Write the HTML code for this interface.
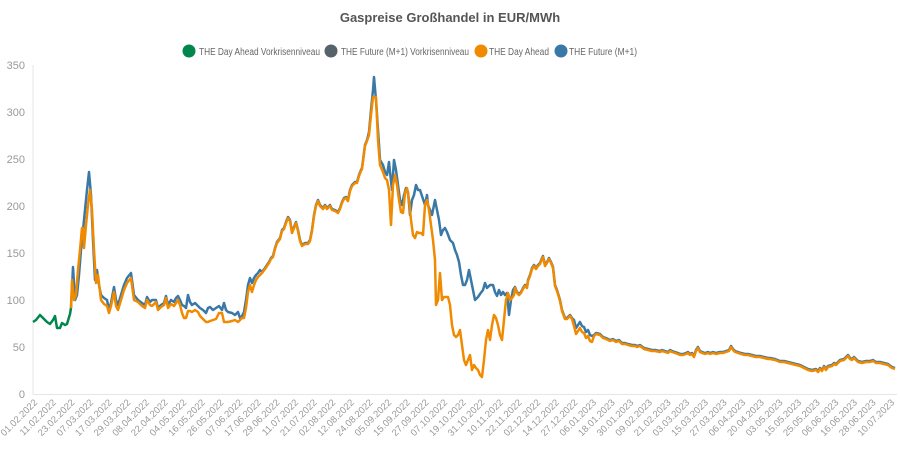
<!DOCTYPE html>
<html><head><meta charset="utf-8"><style>
html,body{margin:0;padding:0;background:#fff;}
svg{display:block;font-family:"Liberation Sans",Arial,sans-serif;}
</style></head><body>
<svg id="c" width="900" height="450" viewBox="0 0 900 450">
<text x="450" y="22" text-anchor="middle" font-size="13" font-weight="bold" fill="#555">Gaspreise Großhandel in EUR/MWh</text>
<g font-size="10" fill="#666">
<circle cx="189" cy="51" r="6.5" fill="#00874e"/><text x="199" y="55" textLength="121" lengthAdjust="spacingAndGlyphs">THE Day Ahead Vorkrisenniveau</text>
<circle cx="331" cy="51" r="6.5" fill="#56636b"/><text x="341" y="55" textLength="128" lengthAdjust="spacingAndGlyphs">THE Future (M+1) Vorkrisenniveau</text>
<circle cx="481" cy="51" r="6.5" fill="#f08a00"/><text x="489" y="55" textLength="60" lengthAdjust="spacingAndGlyphs">THE Day Ahead</text>
<circle cx="561" cy="51" r="6.5" fill="#3a78a6"/><text x="569" y="55" textLength="68" lengthAdjust="spacingAndGlyphs">THE Future (M+1)</text>
</g>
<line x1="33" y1="65" x2="33" y2="394" stroke="#e6e6e6"/>
<line x1="33" y1="394.5" x2="897" y2="394.5" stroke="#e6e6e6"/>
<g font-size="11" fill="#999" text-anchor="end" id="yl"></g>
<g font-size="9.5" fill="#999" text-anchor="end" id="xl"></g>
<g id="lines" fill="none" stroke-width="2.5" stroke-linejoin="round"></g>
</svg>
<script>
var ns="http://www.w3.org/2000/svg";
function el(p,t,a,txt){var e=document.createElementNS(ns,t);for(var k in a)e.setAttribute(k,a[k]);if(txt)e.textContent=txt;p.appendChild(e);return e;}
var yl=document.getElementById('yl');
for(var v=0;v<=350;v+=50){el(yl,'text',{x:25,y:394-v*0.94+4},String(v));}
var labs="01.02.2022 11.02.2022 23.02.2022 07.03.2022 17.03.2022 29.03.2022 08.04.2022 22.04.2022 04.05.2022 16.05.2022 26.05.2022 07.06.2022 17.06.2022 29.06.2022 11.07.2022 21.07.2022 02.08.2022 12.08.2022 24.08.2022 05.09.2022 15.09.2022 27.09.2022 07.10.2022 19.10.2022 31.10.2022 10.11.2022 22.11.2022 02.12.2022 14.12.2022 27.12.2022 06.01.2023 18.01.2023 30.01.2023 09.02.2023 21.02.2023 03.03.2023 15.03.2023 27.03.2023 06.04.2023 20.04.2023 03.05.2023 15.05.2023 25.05.2023 06.06.2023 16.06.2023 28.06.2023 10.07.2023".split(" ");
var xl=document.getElementById('xl');
for(var i=0;i<labs.length;i++){var x=38+i*18.63,y=403;el(xl,'text',{x:x,y:y,transform:'rotate(-45 '+x+' '+y+')'},labs[i]);}
var green=[[33,322],[36,320],[40,315],[43,318],[47,322],[50,324],[53,320],[55,316],[57,328],[60,328],[62,323],[65,325],[67,324],[70,314],[71,308]];
var blue=[[71,308],[73,267],[75,300],[77,295],[79,275],[81,250],[83,230],[85,210],[87,190],[89,172],[91,195],[93,240],[95,280],[97,270],[99,285],[101,295],[104,298],[107,300],[109,310],[111,303],[114,287],[116,300],[118,305],[121,295],[124,285],[127,278],[131,273],[134,295],[138,300],[142,303],[145,305],[147,297],[150,302],[152,300],[156,300],[158,308],[161,305],[164,303],[166,296],[168,305],[171,300],[174,302],[176,298],[178,296],[180,300],[182,305],[184,306],[186,308],[188,295],[190,302],[192,305],[195,303],[198,306],[200,308],[203,310],[206,313],[208,308],[210,307],[213,310],[216,308],[219,306],[222,310],[224,303],[226,310],[228,312],[232,313],[235,315],[238,312],[240,318],[242,316],[244,312],[246,300],[248,285],[250,278],[252,283],[254,278],[256,275],[258,273],[260,270],[262,272],[265,268],[267,265],[269,262],[271,258],[273,256],[275,248],[277,242],[280,238],[282,230],[284,228],[286,222],[288,217],[290,220],[292,232],[294,227],[296,222],[298,230],[300,240],[302,245],[305,243],[308,243],[310,240],[312,230],[314,215],[316,205],[318,200],[320,205],[323,208],[325,205],[327,208],[330,205],[332,209],[335,210],[338,212],[340,208],[342,202],[344,198],[346,197],[348,200],[350,190],[352,185],[355,182],[357,182],[359,175],[361,170],[362,168],[365,145],[367,140],[369,132],[371,110],[373,90],[374,77],[376,100],[378,130],[380,160],[383,165],[385,172],[387,175],[389,162],[390,172],[392,190],[394,160],[396,170],[398,185],[400,200],[402,205],[404,195],[406,188],[408,192],[410,215],[412,200],[414,195],[416,185],[418,190],[420,190],[422,196],[425,205],[427,195],[428,205],[430,210],[432,215],[435,200],[437,210],[439,220],[441,235],[443,230],[445,228],[447,232],[450,240],[453,243],[455,250],[457,255],[459,262],[461,275],[463,285],[465,285],[467,280],[469,270],[471,280],[473,290],[475,300],[478,297],[480,294],[483,290],[485,283],[487,288],[490,285],[493,285],[495,292],[497,296],[499,290],[501,295],[503,292],[505,295],[507,293],[509,315],[511,300],[513,290],[515,287],[517,292],[519,294],[521,292],[523,288],[525,285],[527,287],[528,280],[530,275],[532,268],[534,265],[536,268],[538,265],[540,263],[542,258],[543,256],[545,265],[547,262],[549,258],[551,262],[553,267],[555,285],[557,290],[560,300],[562,310],[565,318],[567,318],[570,315],[572,318],[574,320],[576,328],[578,325],[580,322],[582,326],[584,327],[586,332],[588,330],[590,335],[592,336],[594,335],[596,333],[600,334],[603,337],[606,338],[610,340],[613,339],[616,341],[619,340],[622,343],[625,343],[628,344],[632,345],[635,345],[637,346],[640,345],[644,348],[648,349],[652,350],[655,350],[660,351],[662,350],[665,351],[668,352],[670,350],[672,351],[675,352],[678,353],[680,354],[683,354],[686,353],[688,352],[690,354],[692,353],[694,356],[696,350],[698,347],[700,351],[702,352],[705,353],[708,352],[710,353],[713,352],[716,353],[720,352],[723,352],[726,351],[729,350],[731,346],[733,349],[735,351],[738,352],[741,353],[745,354],[748,354],[752,355],[756,356],[760,356],[764,357],[768,358],[770,358],[775,359],[780,361],[784,361],[788,362],[792,363],[796,364],[800,365],[804,367],[808,369],[812,370],[816,369],[818,371],[820,368],[822,370],[824,366],[826,369],[828,366],[832,365],[834,363],[836,364],[840,360],[844,359],[846,357],[848,355],[850,358],[852,359],[854,357],[856,359],[858,361],[862,362],[866,361],[870,361],[873,360],[876,362],[880,362],[884,363],[888,364],[892,367],[895,368]];
var oStart=[[71,308],[72,280],[74,300],[76,295],[78,270],[80,250],[82,228],[83,228],[84,248],[86,225],[88,205],[90,190],[92,210],[94,250],[96,283],[98,275],[101,300],[104,304],[107,306],[109,313],[111,306],[114,292],[116,306],[118,310],[121,300],[124,290],[127,283],[131,278],[134,300],[138,302],[142,306],[145,308],[147,300],[150,305],[152,306],[156,302],[158,310],[161,307],[164,305],[166,298],[168,308],[171,304],[174,306],[176,303],[178,300],[180,305],[182,313],[184,318],[186,318],[188,311],[190,311],[192,312],[195,310],[198,312],[200,316],[203,319],[206,322],[208,322],[210,321],[213,320],[216,319],[219,313],[222,313],[224,322],[226,322],[228,322],[232,321],[235,320],[238,322],[240,320],[242,318],[244,318],[246,308],[248,292],[250,285],[252,292],[254,285],[256,280],[258,277],[260,275]];
var oMid=[[369,135],[371,115],[373,97],[376,97],[378,140],[380,165],[383,172],[385,178],[387,180],[389,190],[391,225],[393,185],[395,175],[397,185],[399,200],[401,212],[403,213],[405,193],[407,188],[409,200],[411,220],[413,235],[415,238],[417,232],[419,233],[421,233],[423,235],[425,205],[427,200],[429,210],[431,225],[433,240],[435,260],[436,305],[438,300],[440,273],[442,300],[444,297],[446,297],[448,297],[450,305],[452,325],[454,335],[456,337],[458,335],[460,330],[462,345],[464,360],[466,365],[468,360],[470,355],[472,370],[474,365],[476,368],[478,370],[480,375],[482,377],[484,360],[486,340],[488,330],[490,340],[492,325],[494,315],[496,318],[498,325],[500,335],[502,340],[504,320],[506,300],[508,293],[510,300],[512,298],[514,295]];
var orange=oStart.slice();
blue.forEach(function(p){if(p[0]>260&&p[0]<369)orange.push([p[0],p[1]+1]);});
orange=orange.concat(oMid);
blue.forEach(function(p){if(p[0]>514){var d=1;if(p[0]>=574&&p[0]<=592)d=6;orange.push([p[0],p[1]+d]);}});
var g=document.getElementById('lines');
function pl(pts,c){el(g,'polyline',{points:pts.map(function(p){return p.join(',')}).join(' '),stroke:c});}
pl(green,'#00874e');pl(blue,'#3a78a6');pl(orange,'#f08a00');
</script>
</body></html>
